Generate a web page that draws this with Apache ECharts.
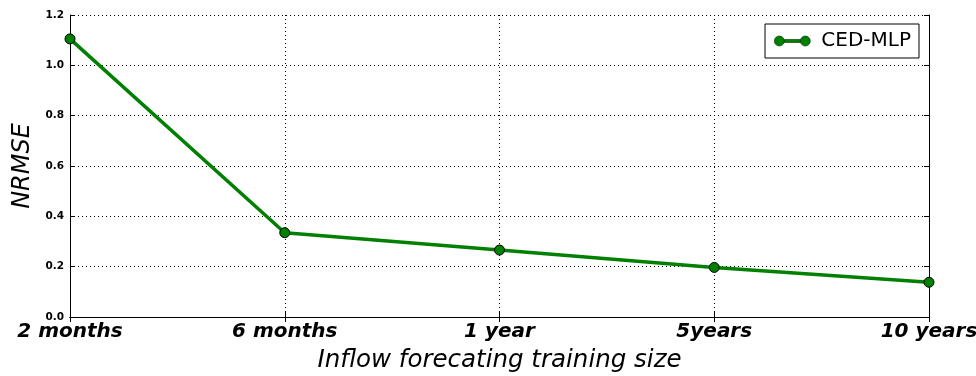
<!DOCTYPE html>
<html>
<head>
<meta charset="utf-8">
<script src="https://cdn.jsdelivr.net/npm/echarts@6/dist/echarts.min.js"></script>
<style>
  html, body { margin: 0; padding: 0; background: #fff; }
  #chart { width: 976px; height: 376px; }
</style>
</head>
<body>
<div id="chart"></div>
<script>
const categories = ["2 months", "6 months", "1 year", "5years", "10 years"];
const nrmse = [1.105, 0.335, 0.266, 0.197, 0.138];
const yTicks = [0, 0.2, 0.4, 0.6, 0.8, 1.0, 1.2];

const font = "DejaVu Sans";
const chart = echarts.init(document.getElementById("chart"));

// legend icon: marker - line - marker, like the matplotlib legend
const legendIcon = "path://M0,5 A5,5 0 1,1 10,5 A5,5 0 1,1 0,5 Z M10,3.5 L26,3.5 L26,6.5 L10,6.5 Z M26,5 A5,5 0 1,1 36,5 A5,5 0 1,1 26,5 Z";
const dotted = { type: [1, 3], color: "#000", width: 1 };

chart.setOption({
  animation: false,
  textStyle: { fontFamily: font },
  grid: { left: 70, right: 47, top: 15, bottom: 59, containLabel: false, outerBoundsMode: "none" },
  legend: {
    right: 57,
    top: 24,
    borderColor: "#000",
    borderWidth: 1,
    borderRadius: 0,
    padding: [7, 8, 7, 9],
    itemWidth: 36,
    itemHeight: 10,
    itemGap: 0,
    icon: legendIcon,
    itemStyle: { color: "#008000", borderColor: "#003300", borderWidth: 0.6 },
    textStyle: { fontSize: 20, color: "#000", fontFamily: font, padding: [0, 0, 0, 6] },
    data: ["CED-MLP"]
  },
  xAxis: [
    {
      type: "category",
      data: categories,
      boundaryGap: false,
      name: "Inflow forecating training size",
      nameLocation: "middle",
      nameGap: 31,
      nameTextStyle: { fontSize: 24.5, fontStyle: "italic", color: "#000", fontFamily: font },
      axisLine: { lineStyle: { color: "#000", width: 1 } },
      axisTick: { inside: true, length: 5, lineStyle: { color: "#000" } },
      axisLabel: {
        margin: 5,
        fontSize: 20,
        fontWeight: "bold",
        fontStyle: "italic",
        color: "#000",
        fontFamily: font
      },
      splitLine: { show: true, lineStyle: dotted }
    },
    {
      type: "category",
      data: categories,
      boundaryGap: false,
      position: "top",
      axisLine: { lineStyle: { color: "#000", width: 1 } },
      axisTick: { inside: true, length: 5, lineStyle: { color: "#000" } },
      axisLabel: { show: false },
      splitLine: { show: false }
    }
  ],
  yAxis: [
    {
      type: "value",
      min: 0,
      max: 1.2,
      interval: 0.2,
      name: "NRMSE",
      nameLocation: "middle",
      nameGap: 28,
      nameTextStyle: { fontSize: 24, fontStyle: "italic", color: "#000", fontFamily: font },
      axisLine: { show: true, lineStyle: { color: "#000", width: 1 } },
      axisTick: { show: true, inside: true, length: 5, lineStyle: { color: "#000" } },
      axisLabel: {
        margin: 6,
        fontSize: 10.5,
        fontWeight: "bold",
        color: "#000",
        fontFamily: font,
        formatter: v => {
          const t = yTicks.find(x => Math.abs(x - v) < 1e-9);
          return (t !== undefined ? t : v).toFixed(1);
        }
      },
      splitLine: { show: true, lineStyle: dotted }
    },
    {
      type: "value",
      min: 0,
      max: 1.2,
      interval: 0.2,
      position: "right",
      axisLine: { show: true, lineStyle: { color: "#000", width: 1 } },
      axisTick: { show: true, inside: true, length: 5, lineStyle: { color: "#000" } },
      axisLabel: { show: false },
      splitLine: { show: false }
    }
  ],
  series: [
    {
      name: "CED-MLP",
      type: "line",
      data: nrmse,
      xAxisIndex: 0,
      yAxisIndex: 0,
      symbol: "circle",
      symbolSize: 10,
      lineStyle: { color: "#008000", width: 3.5 },
      itemStyle: { color: "#008000", borderColor: "#000", borderWidth: 1 },
      clip: false
    }
  ]
});
</script>
</body>
</html>
